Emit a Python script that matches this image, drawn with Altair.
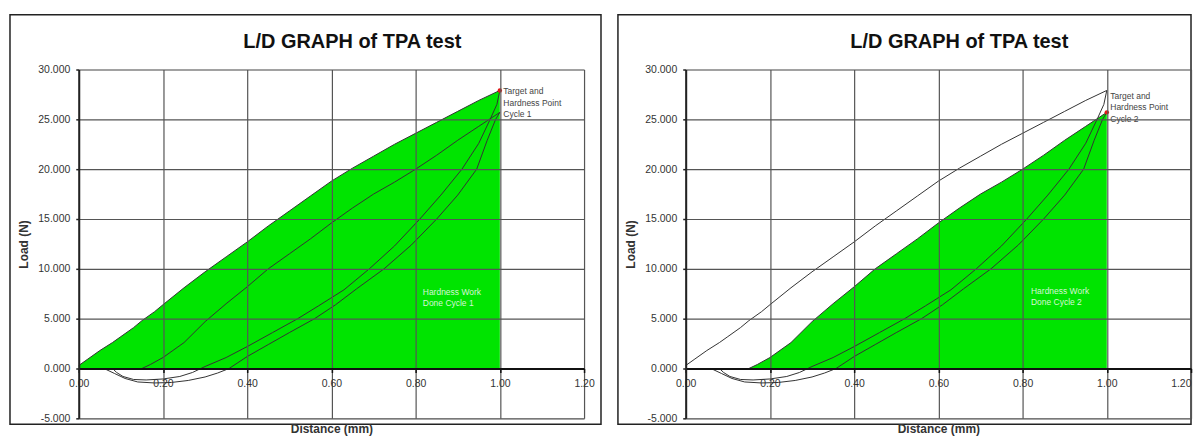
import altair as alt
import pandas as pd

# ---- values (distance in mm, load in N) ----
comp1_x = [0.00, 0.02, 0.05, 0.08, 0.10, 0.13, 0.15, 0.18, 0.20, 0.25, 0.30, 0.35, 0.40,
           0.45, 0.50, 0.55, 0.60, 0.65, 0.70, 0.75, 0.80, 0.85, 0.90, 0.95, 1.00]
comp1_y = [0.3, 0.9, 1.8, 2.6, 3.2, 4.1, 4.8, 5.7, 6.4, 8.1, 9.7, 11.2, 12.7,
           14.3, 15.8, 17.3, 18.8, 20.1, 21.3, 22.5, 23.6, 24.7, 25.8, 26.9, 27.9]

decomp1_x = [1.000, 0.993, 0.977, 0.950, 0.910, 0.860, 0.810, 0.750, 0.690, 0.630, 0.570,
             0.520, 0.460, 0.400, 0.350, 0.300, 0.290, 0.270, 0.240, 0.200, 0.160, 0.130,
             0.105, 0.090, 0.080]
decomp1_y = [27.9, 26.5, 25.0, 22.6, 20.0, 17.4, 15.0, 12.3, 10.0, 7.9, 6.3,
             5.0, 3.6, 2.2, 1.1, 0.2, 0.0, -0.4, -0.8, -1.05, -1.15, -1.1,
             -0.8, -0.4, 0.0]

comp2_x = [0.15, 0.17, 0.20, 0.25, 0.30, 0.35, 0.40, 0.45, 0.50, 0.55, 0.60, 0.65,
           0.70, 0.75, 0.80, 0.85, 0.90, 0.95, 1.00]
comp2_y = [0.0, 0.4, 1.1, 2.6, 4.7, 6.5, 8.2, 10.0, 11.5, 13.0, 14.6, 16.1,
           17.5, 18.7, 20.0, 21.4, 22.9, 24.3, 25.7]

decomp2_x = [1.000, 0.990, 0.970, 0.945, 0.900, 0.850, 0.790, 0.725, 0.660, 0.610, 0.560,
             0.500, 0.450, 0.400, 0.357, 0.330, 0.300, 0.260, 0.220, 0.180, 0.140, 0.110,
             0.085, 0.065, 0.060]
decomp2_y = [25.7, 25.0, 22.9, 20.0, 17.4, 15.0, 12.4, 10.0, 8.0, 6.4, 5.0,
             3.6, 2.4, 1.2, 0.0, -0.45, -0.85, -1.2, -1.4, -1.45, -1.35, -1.0,
             -0.5, -0.1, 0.0]

x_ticks = [0.0, 0.2, 0.4, 0.6, 0.8, 1.0, 1.2]
y_ticks = [-5, 0, 5, 10, 15, 20, 25, 30]

chart_title = "L/D GRAPH of TPA test"
x_title = "Distance (mm)"
y_title = "Load (N)"

target_x = [1.0, 1.0]
target_y = [27.9, 25.7]
target_text = ["Target and\nHardness Point\nCycle 1", "Target and\nHardness Point\nCycle 2"]
work_x = [0.817, 0.82]
work_y = [7.7, 7.75]
work_text = ["Hardness Work\nDone Cycle 1", "Hardness Work\nDone Cycle 2"]


def series_df(name, xs, ys):
    return pd.DataFrame({"series": name, "x": xs, "y": ys, "i": list(range(len(xs)))})


curves = pd.concat([
    series_df("comp1", comp1_x, comp1_y),
    series_df("decomp1", decomp1_x, decomp1_y),
    series_df("comp2", comp2_x, comp2_y),
    series_df("decomp2", decomp2_x, decomp2_y),
], ignore_index=True)

W, H = 507, 350
FONT = "Liberation Sans"
GREEN = "#00e400"


def make_axes(last_align):
    x_axis = alt.Axis(
        values=x_ticks, format=".2f", offset=-50, grid=True, gridColor="#555", gridWidth=1.2,
        domainColor="#111", domainWidth=2, tickColor="#111", tickSize=4, tickWidth=1.5,
        labelFont=FONT, labelFontSize=10.5, labelColor="#333", labelPadding=6,
        labelFlush=False, labelOverlap=False,
        labelAlign={"condition": {"test": "datum.value > 1.1", "value": last_align}, "value": "center"},
        title=x_title, titleFont=FONT, titleFontSize=12, titleFontWeight="bold", titleColor="#333",
        titleX=W / 2, titleY=60, titleBaseline="middle", titleAlign="center", zindex=1,
    )
    y_axis = alt.Axis(
        values=y_ticks, labelExpr="replace(format(datum.value, '.3f'), '\u2212', '-')",
        grid=True, gridColor="#555", gridWidth=1.2,
        domainColor="#222", domainWidth=2, tickColor="#222", tickSize=3, tickWidth=1.5,
        labelFont=FONT, labelFontSize=10.5, labelColor="#333", labelPadding=6,
        labelOverlap=False,
        title=y_title, titleFont=FONT, titleFontSize=12, titleFontWeight="bold", titleColor="#333",
        titleX=-55, titleY=H / 2, titleBaseline="middle", titleAlign="center", zindex=1,
    )
    X = alt.X("x:Q", scale=alt.Scale(domain=[0, 1.2], nice=False, zero=False), axis=x_axis)
    Y = alt.Y("y:Q", scale=alt.Scale(domain=[-5, 30], nice=False, zero=False), axis=y_axis, stack=None)
    return X, Y


def panel(k, fill_name, frame_left, frame_right, note_dy, last_align):
    X, Y = make_axes(last_align)
    one = pd.DataFrame({"a": [0]})
    frame = alt.Chart(one).mark_rect(fill="white", fillOpacity=0, stroke="#222", strokeWidth=1.5).encode(
        x=alt.value(frame_left), x2=alt.value(frame_right), y=alt.value(-55), y2=alt.value(356)
    )
    title = alt.Chart(one).mark_text(
        text=chart_title, font=FONT, fontSize=20, fontWeight="bold", color="#111",
        align="center", baseline="middle",
    ).encode(x=alt.value(W / 2 + 21), y=alt.value(-28))
    area = alt.Chart(curves[curves.series == fill_name]).mark_area(
        color=GREEN, opacity=1, interpolate="linear"
    ).encode(x=X, y=Y, y2=alt.datum(0))
    lines = alt.Chart(curves).mark_line(color="#333", strokeWidth=1).encode(
        x=X, y=Y, detail="series:N", order="i:Q"
    )
    tdf = pd.DataFrame({"x": [target_x[k]], "y": [target_y[k]], "t": [target_text[k]]})
    point = alt.Chart(tdf).mark_circle(color="#e01b1b", size=20, opacity=1).encode(x=X, y=Y)
    note = alt.Chart(tdf).mark_text(
        align="left", baseline="middle", font=FONT, fontSize=8.5, lineHeight=11.5,
        dx=3.5, dy=note_dy, color="#444", lineBreak="\n",
    ).encode(x=X, y=Y, text="t:N")
    wdf = pd.DataFrame({"x": [work_x[k]], "y": [work_y[k]], "t": [work_text[k]]})
    work = alt.Chart(wdf).mark_text(
        align="left", baseline="middle", font=FONT, fontSize=8.5, lineHeight=11,
        color="#d6f6d6", lineBreak="\n",
    ).encode(x=X, y=Y, text="t:N")
    return alt.layer(frame, title, area, lines, point, note, work).properties(width=W, height=H)


left = panel(0, "comp1", -69, W + 17, 1, "center")
right = panel(1, "comp2", -68, W, -16.7, "right")

chart = alt.hconcat(left, right, spacing=13).properties(
    padding={"left": 0, "top": 4, "right": 0, "bottom": 0}
).configure_view(stroke="#555", strokeWidth=1.2).configure(background="white")

chart.save("out.html", embed_options={"renderer": "svg", "actions": False})
